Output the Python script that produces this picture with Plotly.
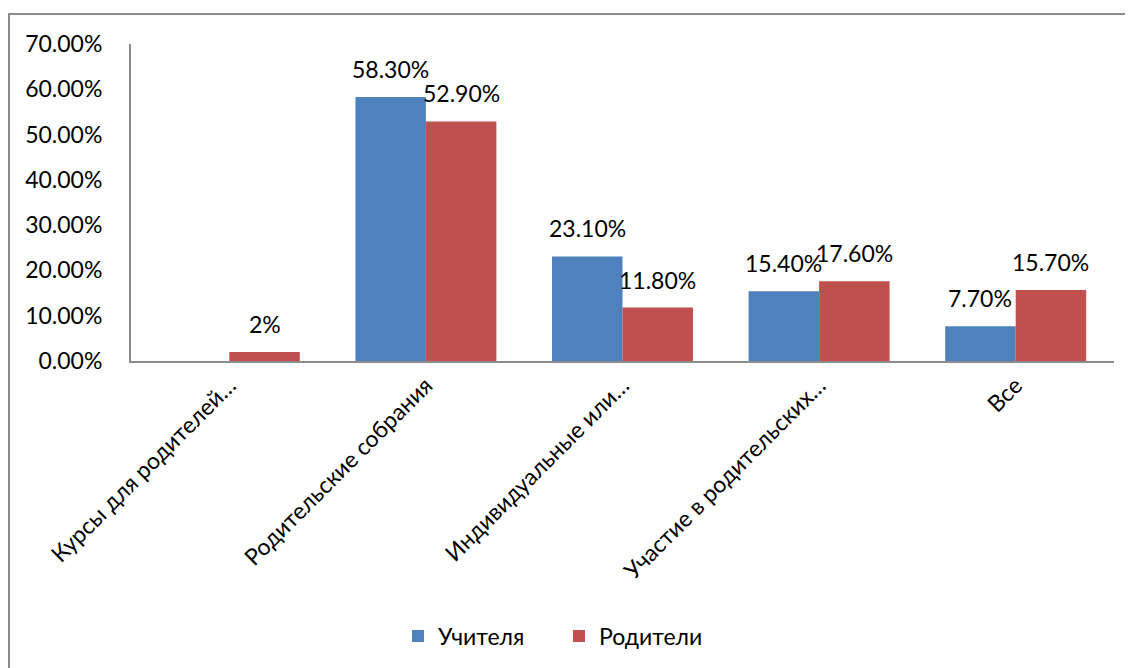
import plotly.graph_objects as go

categories = ["Курсы для родителей…", "Родительские собрания", "Индивидуальные или…",
              "Участие в родительских…", "Все"]
teachers = [None, 0.583, 0.231, 0.154, 0.077]
parents = [0.02, 0.529, 0.118, 0.176, 0.157]
teachers_labels = ["", "58.30%", "23.10%", "15.40%", "7.70%"]
parents_labels = ["2%", "52.90%", "11.80%", "17.60%", "15.70%"]
y_ticks = [0, 0.1, 0.2, 0.3, 0.4, 0.5, 0.6, 0.7]

FONT = "Lato"
FS = 23
BLUE = "#4F81BD"
RED = "#C0504D"

# page offset (body margin) compensation
OFF = 8
W, H = 1133 - OFF, 668 - OFF
L, T = 131 - OFF, 44 - OFF
R = W - (1114 - OFF)
B = H - (361 - OFF)
pw, ph = W - L - R, H - T - B


def px(x):
    return (x - OFF - L) / pw


def py(y):
    return (H - B - (y - OFF)) / ph


BARGAP = 0.283
cat_w = pw / len(categories)
bar_w = cat_w * (1 - BARGAP) / 2

fig = go.Figure()
fig.add_trace(go.Bar(x=categories, y=teachers, name="Учителя", marker_color=BLUE,
                     marker_line_width=0))
fig.add_trace(go.Bar(x=categories, y=parents, name="Родители", marker_color=RED,
                     marker_line_width=0))

annotations = []
for series, labels, shift in ((teachers, teachers_labels, -bar_w / 2),
                              (parents, parents_labels, bar_w / 2)):
    for c, v, lab in zip(categories, series, labels):
        if v is None or not lab:
            continue
        annotations.append(dict(x=c, y=v, xref="x", yref="y", text=lab, showarrow=False,
                                xshift=shift, yshift=12, yanchor="bottom", xanchor="center",
                                font=dict(size=FS, family=FONT, color="black")))

fig.update_layout(
    width=W, height=H,
    margin=dict(l=L, r=R, t=T, b=B, autoexpand=False),
    paper_bgcolor="white", plot_bgcolor="white",
    font=dict(family=FONT, size=FS, color="black"),
    barmode="group", bargap=BARGAP, bargroupgap=0,
    showlegend=True,
    legend=dict(orientation="h", x=px(398), xanchor="left", y=py(636), yanchor="middle",
                font=dict(size=FS, family=FONT), entrywidth=116, entrywidthmode="pixels",
                traceorder="normal", bgcolor="rgba(0,0,0,0)"),
    xaxis=dict(showline=True, linecolor="#8C8C8C", linewidth=2, tickangle=-45,
               ticks="", showgrid=False, tickfont=dict(size=FS, family=FONT)),
    yaxis=dict(range=[0, 0.7], tickvals=y_ticks, tickformat=".2%", showline=True,
               linecolor="#8C8C8C", linewidth=2, showgrid=False, zeroline=False, ticks="",
               ticklabelstandoff=22, tickfont=dict(size=FS, family=FONT)),
    annotations=annotations,
    shapes=[dict(type="rect", xref="paper", yref="paper",
                 x0=px(9), x1=px(1160), y0=py(700), y1=py(14),
                 line=dict(color="#8C8C8C", width=2), fillcolor="rgba(0,0,0,0)")],
)

fig.write_html("out.html")
